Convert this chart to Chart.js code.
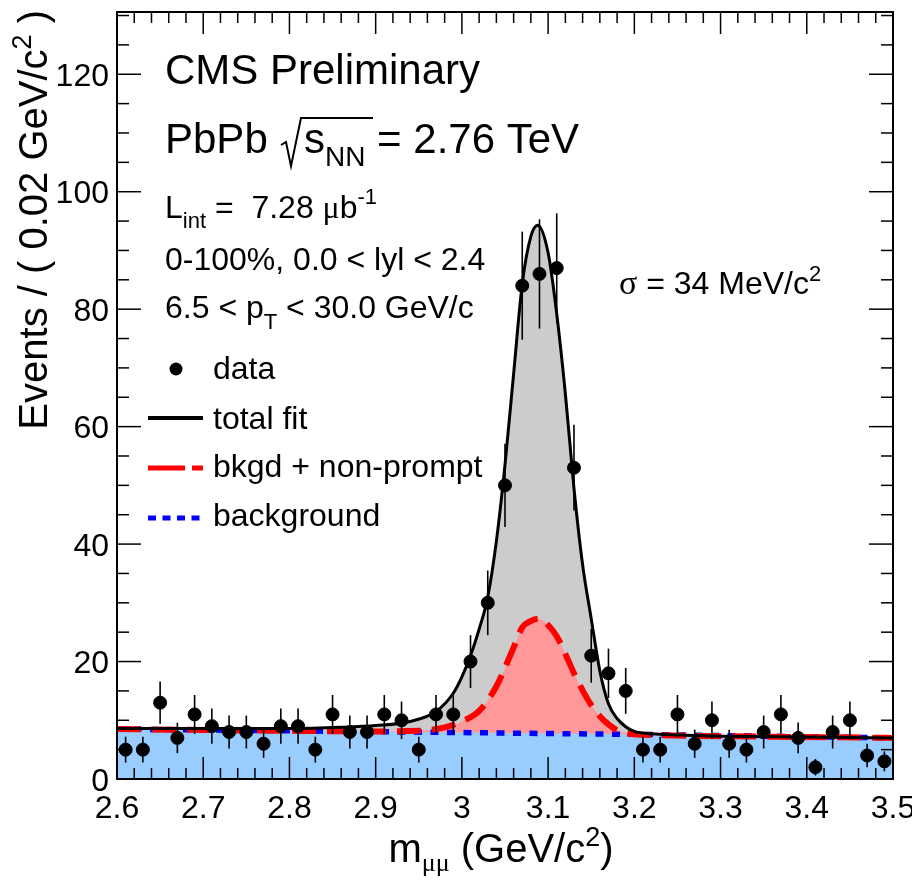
<!DOCTYPE html>
<html>
<head>
<meta charset="utf-8">
<script src="https://cdn.jsdelivr.net/npm/chart.js@4.4.0/dist/chart.umd.min.js"></script>
<style>
  html, body { margin: 0; padding: 0; background: #fff; }
</style>
</head>
<body>
<canvas id="massChart" width="912" height="882"></canvas>
<script>
// dimuon mass bins (0.02 GeV/c2 wide), centres and counts
const binCenters = [2.61, 2.63, 2.65, 2.67, 2.69, 2.71, 2.73, 2.75, 2.77, 2.79,
    2.81, 2.83, 2.85, 2.87, 2.89, 2.91, 2.93, 2.95, 2.97, 2.99,
    3.01, 3.03, 3.05, 3.07, 3.09, 3.11, 3.13, 3.15, 3.17, 3.19,
    3.21, 3.23, 3.25, 3.27, 3.29, 3.31, 3.33, 3.35, 3.37, 3.39,
    3.41, 3.43, 3.45, 3.47, 3.49];
const counts = [5, 5, 13, 7, 11, 9, 8, 8, 6, 9,
    9, 5, 11, 8, 8, 11, 10, 5, 11, 11,
    20, 30, 50, 84, 86, 87, 53, 21, 18, 15,
    5, 5, 11, 6, 10, 6, 5, 8, 11, 7,
    2, 8, 10, 4, 3];
const countErrors = [2.2, 2.2, 3.6, 2.6, 3.3, 3.0, 2.8, 2.8, 2.4, 3.0,
    3.0, 2.2, 3.3, 2.8, 2.8, 3.3, 3.2, 2.2, 3.3, 3.3,
    4.5, 5.5, 7.1, 9.2, 9.3, 9.3, 7.3, 4.6, 4.2, 3.9,
    2.2, 2.2, 3.3, 2.4, 3.2, 2.4, 2.2, 2.8, 3.3, 2.6,
    1.4, 2.8, 3.2, 2.0, 1.7];

// total fit curve
const fitX = [2.60, 2.70, 2.80, 2.86, 2.90, 2.94, 2.97, 2.99, 3.00, 3.01,
    3.02, 3.03, 3.04, 3.05, 3.06, 3.07, 3.08, 3.088, 3.10, 3.11,
    3.12, 3.13, 3.14, 3.15, 3.16, 3.17, 3.18, 3.19, 3.20, 3.22,
    3.25, 3.30, 3.40, 3.50];
const fitY = [8.6, 8.6, 8.6, 8.8, 9.1, 9.8, 11.5, 14.6, 17.4, 21.0,
    25.5, 31.0, 40.5, 53.5, 69.0, 84.3, 92.4, 94.3, 89.6, 79.2,
    65.6, 49.5, 36.5, 27.3, 18.4, 12.8, 10.3, 8.9, 8.1, 7.7,
    7.5, 7.3, 7.15, 7.0];

// background + non-prompt curve
const bkgNpX = [2.60, 2.80, 2.90, 2.95, 2.98, 3.00, 3.02, 3.04, 3.06, 3.07,
    3.08, 3.089, 3.10, 3.11, 3.12, 3.13, 3.14, 3.15, 3.16, 3.17,
    3.18, 3.19, 3.22, 3.30, 3.50];
const bkgNpY = [8.5, 8.2, 8.1, 8.2, 8.8, 9.8, 11.6, 15.8, 22.4, 25.8,
    26.9, 27.3, 26.2, 24.3, 21.3, 18.0, 15.1, 12.6, 10.7, 9.3,
    8.3, 7.8, 7.5, 7.3, 7.0];

// combinatorial background
const bkgX = [2.60, 2.80, 3.00, 3.20, 3.40, 3.50];
const bkgY = [8.5, 8.2, 7.9, 7.6, 7.2, 7.0];

const xTickLabels = ["2.6", "2.7", "2.8", "2.9", "3", "3.1", "3.2", "3.3", "3.4", "3.5"];
const yTickLabels = ["0", "20", "40", "60", "80", "100", "120"];

const legendLabels = ["data", "total fit", "bkgd + non-prompt", "background"];

const FONT = '"Liberation Sans", Arial, Helvetica, sans-serif';
const SERIF = '"Liberation Serif", "DejaVu Serif", serif';

const pts = (xs, ys) => xs.map((x, i) => ({ x: x, y: ys[i] }));

// draws a run of text pieces: [text, size, dy, family]
function drawParts(ctx, parts, x, y, align) {
    let width = 0;
    parts.forEach(p => {
        ctx.font = p[1] + "px " + (p[3] || FONT);
        width += ctx.measureText(p[0]).width;
    });
    let cx = x;
    if (align === "right") cx = x - width;
    if (align === "center") cx = x - width / 2;
    ctx.textAlign = "left";
    ctx.textBaseline = "alphabetic";
    parts.forEach(p => {
        ctx.font = p[1] + "px " + (p[3] || FONT);
        ctx.fillText(p[0], cx, y + (p[2] || 0));
        cx += ctx.measureText(p[0]).width;
    });
}

function seg(ctx, x1, y1, x2, y2) {
    ctx.beginPath();
    ctx.moveTo(x1, y1);
    ctx.lineTo(x2, y2);
    ctx.stroke();
}

const decorations = {
    id: "decorations",
    afterDatasetsDraw(chart) {
        const { ctx, scales: { x, y } } = chart;
        ctx.save();
        ctx.strokeStyle = "#000";
        ctx.lineWidth = 1.6;
        binCenters.forEach((c, i) => {
            const px = x.getPixelForValue(c);
            seg(ctx, px, y.getPixelForValue(Math.max(0, counts[i] - countErrors[i])),
                px, y.getPixelForValue(counts[i] + countErrors[i]));
        });
        ctx.restore();
    },
    afterDraw(chart) {
        const { ctx, chartArea: a, scales: { x, y } } = chart;
        ctx.save();
        ctx.fillStyle = "#000";
        ctx.strokeStyle = "#000";

        // frame
        ctx.lineWidth = 2;
        ctx.strokeRect(a.left, a.top, a.right - a.left, a.bottom - a.top);

        // x ticks, top and bottom
        ctx.lineWidth = 1.5;
        for (let k = 0; k <= 45; k++) {
            const px = x.getPixelForValue(2.6 + k * 0.02);
            const len = k % 5 === 0 ? 22 : 11;
            seg(ctx, px, a.bottom, px, a.bottom - len);
            seg(ctx, px, a.top, px, a.top + len);
        }
        // y ticks, left and right
        for (let v = 0; v <= y.max; v += 5) {
            const py = y.getPixelForValue(v);
            const len = v % 20 === 0 ? 24 : 12;
            seg(ctx, a.left, py, a.left + len, py);
            seg(ctx, a.right, py, a.right - len, py);
        }

        // tick labels
        ctx.font = "32px " + FONT;
        ctx.textBaseline = "alphabetic";
        ctx.textAlign = "center";
        xTickLabels.forEach(t => {
            ctx.fillText(t, x.getPixelForValue(Number(t)), a.bottom + 39);
        });
        ctx.textAlign = "right";
        yTickLabels.forEach(t => {
            ctx.fillText(t, a.left - 8, y.getPixelForValue(Number(t)) + 11.5);
        });

        // axis titles
        drawParts(ctx, [["m", 40], ["\u03bc\u03bc", 26, 9, SERIF], [" (GeV/c", 40], ["2", 27, -16], [")", 40]],
            501, 862, "center");
        ctx.save();
        ctx.translate(47, 10);
        ctx.rotate(-Math.PI / 2);
        drawParts(ctx, [["Events / ( 0.02 GeV/c", 40], ["2", 27, -16], [" )", 40]], 0, 0, "right");
        ctx.restore();

        // header text
        drawParts(ctx, [["CMS Preliminary", 42]], 165, 84, "left");
        drawParts(ctx, [["PbPb", 42]], 165, 153, "left");
        ctx.lineWidth = 2;
        ctx.beginPath();
        ctx.moveTo(281, 145);
        ctx.lineTo(286, 142);
        ctx.lineTo(291, 166);
        ctx.lineTo(301, 118);
        ctx.lineTo(373, 118);
        ctx.stroke();
        drawParts(ctx, [["s", 42], ["NN", 28, 13], [" = 2.76 TeV", 42]], 304, 153, "left");

        drawParts(ctx, [["L", 32], ["int", 22, 10], [" =  7.28 ", 32], ["\u03bc", 32, 0, SERIF],
            ["b", 32], ["-1", 22, -14]], 165, 218, "left");
        drawParts(ctx, [["0-100%, 0.0 < lyl < 2.4", 32]], 165, 270, "left");
        drawParts(ctx, [["6.5 < p", 32], ["T", 22, 11], [" < 30.0 GeV/c", 32]], 165, 318, "left");
        drawParts(ctx, [["\u03c3", 34, 0, SERIF], [" = 34 MeV/c", 32], ["2", 22, -13]], 619, 294, "left");

        // legend
        ctx.beginPath();
        ctx.arc(176, 369, 6.5, 0, Math.PI * 2);
        ctx.fill();
        ctx.lineWidth = 4;
        seg(ctx, 148, 418, 203, 418);
        ctx.strokeStyle = "#ff0000";
        ctx.lineWidth = 5;
        ctx.setLineDash([37, 7]);
        seg(ctx, 148, 468, 203, 468);
        ctx.strokeStyle = "#0000ff";
        ctx.setLineDash([8, 6.5]);
        seg(ctx, 148, 518, 203, 518);
        ctx.setLineDash([]);
        ctx.fillStyle = "#000";
        const legendY = [379, 429, 477, 526];
        legendLabels.forEach((t, i) => drawParts(ctx, [[t, 32]], 213, legendY[i], "left"));

        ctx.restore();
    }
};

new Chart(document.getElementById("massChart"), {
    type: "scatter",
    data: {
        datasets: [
            {
                label: "data",
                data: pts(binCenters, counts),
                backgroundColor: "#000",
                borderColor: "#000",
                pointRadius: 6.5,
                showLine: false
            },
            {
                label: "total fit",
                data: pts(fitX, fitY),
                showLine: true,
                borderColor: "#000",
                borderWidth: 3,
                pointRadius: 0,
                cubicInterpolationMode: "monotone",
                fill: false
            },
            {
                label: "bkgd + non-prompt",
                data: pts(bkgNpX, bkgNpY),
                showLine: true,
                borderColor: "#ff0000",
                borderWidth: 6,
                borderDash: [24, 11],
                pointRadius: 0,
                cubicInterpolationMode: "monotone",
                fill: false
            },
            {
                label: "background",
                data: pts(bkgX, bkgY),
                showLine: true,
                borderColor: "#0000ff",
                borderWidth: 5.5,
                borderDash: [8, 8.5],
                pointRadius: 0,
                fill: false
            },
            {
                label: "background fill",
                data: pts(bkgX, bkgY),
                showLine: true,
                borderWidth: 0,
                pointRadius: 0,
                backgroundColor: "#99ccff",
                fill: "origin"
            },
            {
                label: "non-prompt fill",
                data: pts(bkgNpX, bkgNpY),
                showLine: true,
                borderWidth: 0,
                pointRadius: 0,
                cubicInterpolationMode: "monotone",
                backgroundColor: "#ff9999",
                fill: "origin"
            },
            {
                label: "fit fill",
                data: pts(fitX, fitY),
                showLine: true,
                borderWidth: 0,
                pointRadius: 0,
                cubicInterpolationMode: "monotone",
                backgroundColor: "#cccccc",
                fill: "origin"
            }
        ]
    },
    options: {
        responsive: false,
        animation: false,
        devicePixelRatio: 1,
        layout: { padding: { left: 117, right: 19, top: 12, bottom: 103 } },
        scales: {
            x: { type: "linear", min: 2.6, max: 3.5, display: false },
            y: { type: "linear", min: 0, max: 130.6, display: false }
        },
        plugins: {
            legend: { display: false },
            tooltip: { enabled: false }
        }
    },
    plugins: [decorations]
});
</script>
</body>
</html>
